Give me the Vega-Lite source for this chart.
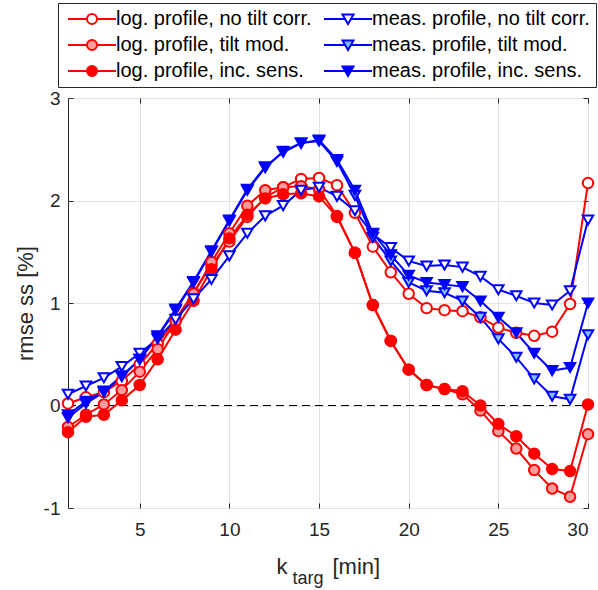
{
  "$schema": "https://vega.github.io/schema/vega-lite/v6.json",
  "width": 520,
  "height": 410,
  "autosize": {"type": "none"},
  "padding": {"left": 68, "top": 98, "right": 10, "bottom": 82},
  "background": "white",
  "config": {
    "font": "Liberation Sans",
    "view": {"stroke": "#262626", "strokeWidth": 1},
    "axis": {
      "labelFont": "Liberation Sans", "labelFontSize": 19, "labelColor": "#262626",
      "titleFont": "Liberation Sans", "titleFontSize": 22, "titleFontWeight": "normal", "titleColor": "#262626",
      "domainColor": "#262626", "tickColor": "#262626", "gridColor": "#e3e3e3", "tickSize": -5
    },
    "legend": {
      "orient": "none", "legendX": -10, "legendY": -95, "columns": 2,
      "labelFont": "Liberation Sans", "labelFontSize": 20, "labelColor": "black", "labelLimit": 400,
      "strokeColor": "#262626", "fillColor": "white", "padding": 6,
      "symbolSize": 100, "symbolStrokeWidth": 2, "symbolOffset": 18, "labelOffset": 14,
      "rowPadding": 6, "columnPadding": 8
    }
  },
  "data": {"values": [
    {"s": "log. profile, no tilt corr.", "k": 1, "v": 0.02},
    {"s": "log. profile, no tilt corr.", "k": 2, "v": 0.08},
    {"s": "log. profile, no tilt corr.", "k": 3, "v": 0.13},
    {"s": "log. profile, no tilt corr.", "k": 4, "v": 0.24},
    {"s": "log. profile, no tilt corr.", "k": 5, "v": 0.40},
    {"s": "log. profile, no tilt corr.", "k": 6, "v": 0.60},
    {"s": "log. profile, no tilt corr.", "k": 7, "v": 0.84},
    {"s": "log. profile, no tilt corr.", "k": 8, "v": 1.10},
    {"s": "log. profile, no tilt corr.", "k": 9, "v": 1.37},
    {"s": "log. profile, no tilt corr.", "k": 10, "v": 1.60},
    {"s": "log. profile, no tilt corr.", "k": 11, "v": 1.84},
    {"s": "log. profile, no tilt corr.", "k": 12, "v": 2.03},
    {"s": "log. profile, no tilt corr.", "k": 13, "v": 2.13},
    {"s": "log. profile, no tilt corr.", "k": 14, "v": 2.21},
    {"s": "log. profile, no tilt corr.", "k": 15, "v": 2.22},
    {"s": "log. profile, no tilt corr.", "k": 16, "v": 2.15},
    {"s": "log. profile, no tilt corr.", "k": 17, "v": 1.88},
    {"s": "log. profile, no tilt corr.", "k": 18, "v": 1.55},
    {"s": "log. profile, no tilt corr.", "k": 19, "v": 1.30},
    {"s": "log. profile, no tilt corr.", "k": 20, "v": 1.09},
    {"s": "log. profile, no tilt corr.", "k": 21, "v": 0.95},
    {"s": "log. profile, no tilt corr.", "k": 22, "v": 0.93},
    {"s": "log. profile, no tilt corr.", "k": 23, "v": 0.92},
    {"s": "log. profile, no tilt corr.", "k": 24, "v": 0.86},
    {"s": "log. profile, no tilt corr.", "k": 25, "v": 0.76},
    {"s": "log. profile, no tilt corr.", "k": 26, "v": 0.71},
    {"s": "log. profile, no tilt corr.", "k": 27, "v": 0.68},
    {"s": "log. profile, no tilt corr.", "k": 28, "v": 0.72},
    {"s": "log. profile, no tilt corr.", "k": 29, "v": 0.99},
    {"s": "log. profile, no tilt corr.", "k": 30, "v": 2.17},
    {"s": "log. profile, tilt mod.", "k": 1, "v": -0.21},
    {"s": "log. profile, tilt mod.", "k": 2, "v": -0.09},
    {"s": "log. profile, tilt mod.", "k": 3, "v": 0.01},
    {"s": "log. profile, tilt mod.", "k": 4, "v": 0.15},
    {"s": "log. profile, tilt mod.", "k": 5, "v": 0.33},
    {"s": "log. profile, tilt mod.", "k": 6, "v": 0.55},
    {"s": "log. profile, tilt mod.", "k": 7, "v": 0.82},
    {"s": "log. profile, tilt mod.", "k": 8, "v": 1.09},
    {"s": "log. profile, tilt mod.", "k": 9, "v": 1.40},
    {"s": "log. profile, tilt mod.", "k": 10, "v": 1.68},
    {"s": "log. profile, tilt mod.", "k": 11, "v": 1.95},
    {"s": "log. profile, tilt mod.", "k": 12, "v": 2.10},
    {"s": "log. profile, tilt mod.", "k": 13, "v": 2.13},
    {"s": "log. profile, tilt mod.", "k": 14, "v": 2.14},
    {"s": "log. profile, tilt mod.", "k": 15, "v": 2.11},
    {"s": "log. profile, tilt mod.", "k": 16, "v": 1.85},
    {"s": "log. profile, tilt mod.", "k": 17, "v": 1.49},
    {"s": "log. profile, tilt mod.", "k": 18, "v": 0.98},
    {"s": "log. profile, tilt mod.", "k": 19, "v": 0.63},
    {"s": "log. profile, tilt mod.", "k": 20, "v": 0.35},
    {"s": "log. profile, tilt mod.", "k": 21, "v": 0.20},
    {"s": "log. profile, tilt mod.", "k": 22, "v": 0.16},
    {"s": "log. profile, tilt mod.", "k": 23, "v": 0.11},
    {"s": "log. profile, tilt mod.", "k": 24, "v": -0.05},
    {"s": "log. profile, tilt mod.", "k": 25, "v": -0.25},
    {"s": "log. profile, tilt mod.", "k": 26, "v": -0.42},
    {"s": "log. profile, tilt mod.", "k": 27, "v": -0.63},
    {"s": "log. profile, tilt mod.", "k": 28, "v": -0.81},
    {"s": "log. profile, tilt mod.", "k": 29, "v": -0.89},
    {"s": "log. profile, tilt mod.", "k": 30, "v": -0.28},
    {"s": "log. profile, inc. sens.", "k": 1, "v": -0.26},
    {"s": "log. profile, inc. sens.", "k": 2, "v": -0.11},
    {"s": "log. profile, inc. sens.", "k": 3, "v": -0.09},
    {"s": "log. profile, inc. sens.", "k": 4, "v": 0.05},
    {"s": "log. profile, inc. sens.", "k": 5, "v": 0.20},
    {"s": "log. profile, inc. sens.", "k": 6, "v": 0.45},
    {"s": "log. profile, inc. sens.", "k": 7, "v": 0.74},
    {"s": "log. profile, inc. sens.", "k": 8, "v": 1.02},
    {"s": "log. profile, inc. sens.", "k": 9, "v": 1.33},
    {"s": "log. profile, inc. sens.", "k": 10, "v": 1.63},
    {"s": "log. profile, inc. sens.", "k": 11, "v": 1.86},
    {"s": "log. profile, inc. sens.", "k": 12, "v": 2.02},
    {"s": "log. profile, inc. sens.", "k": 13, "v": 2.06},
    {"s": "log. profile, inc. sens.", "k": 14, "v": 2.07},
    {"s": "log. profile, inc. sens.", "k": 15, "v": 2.04},
    {"s": "log. profile, inc. sens.", "k": 16, "v": 1.84},
    {"s": "log. profile, inc. sens.", "k": 17, "v": 1.49},
    {"s": "log. profile, inc. sens.", "k": 18, "v": 0.98},
    {"s": "log. profile, inc. sens.", "k": 19, "v": 0.63},
    {"s": "log. profile, inc. sens.", "k": 20, "v": 0.35},
    {"s": "log. profile, inc. sens.", "k": 21, "v": 0.20},
    {"s": "log. profile, inc. sens.", "k": 22, "v": 0.16},
    {"s": "log. profile, inc. sens.", "k": 23, "v": 0.14},
    {"s": "log. profile, inc. sens.", "k": 24, "v": 0.00},
    {"s": "log. profile, inc. sens.", "k": 25, "v": -0.18},
    {"s": "log. profile, inc. sens.", "k": 26, "v": -0.30},
    {"s": "log. profile, inc. sens.", "k": 27, "v": -0.47},
    {"s": "log. profile, inc. sens.", "k": 28, "v": -0.62},
    {"s": "log. profile, inc. sens.", "k": 29, "v": -0.64},
    {"s": "log. profile, inc. sens.", "k": 30, "v": 0.01},
    {"s": "meas. profile, no tilt corr.", "k": 1, "v": 0.11},
    {"s": "meas. profile, no tilt corr.", "k": 2, "v": 0.19},
    {"s": "meas. profile, no tilt corr.", "k": 3, "v": 0.27},
    {"s": "meas. profile, no tilt corr.", "k": 4, "v": 0.38},
    {"s": "meas. profile, no tilt corr.", "k": 5, "v": 0.51},
    {"s": "meas. profile, no tilt corr.", "k": 6, "v": 0.65},
    {"s": "meas. profile, no tilt corr.", "k": 7, "v": 0.84},
    {"s": "meas. profile, no tilt corr.", "k": 8, "v": 1.04},
    {"s": "meas. profile, no tilt corr.", "k": 9, "v": 1.23},
    {"s": "meas. profile, no tilt corr.", "k": 10, "v": 1.46},
    {"s": "meas. profile, no tilt corr.", "k": 11, "v": 1.68},
    {"s": "meas. profile, no tilt corr.", "k": 12, "v": 1.85},
    {"s": "meas. profile, no tilt corr.", "k": 13, "v": 1.95},
    {"s": "meas. profile, no tilt corr.", "k": 14, "v": 2.10},
    {"s": "meas. profile, no tilt corr.", "k": 15, "v": 2.13},
    {"s": "meas. profile, no tilt corr.", "k": 16, "v": 2.04},
    {"s": "meas. profile, no tilt corr.", "k": 17, "v": 1.90},
    {"s": "meas. profile, no tilt corr.", "k": 18, "v": 1.67},
    {"s": "meas. profile, no tilt corr.", "k": 19, "v": 1.54},
    {"s": "meas. profile, no tilt corr.", "k": 20, "v": 1.41},
    {"s": "meas. profile, no tilt corr.", "k": 21, "v": 1.36},
    {"s": "meas. profile, no tilt corr.", "k": 22, "v": 1.37},
    {"s": "meas. profile, no tilt corr.", "k": 23, "v": 1.35},
    {"s": "meas. profile, no tilt corr.", "k": 24, "v": 1.26},
    {"s": "meas. profile, no tilt corr.", "k": 25, "v": 1.13},
    {"s": "meas. profile, no tilt corr.", "k": 26, "v": 1.07},
    {"s": "meas. profile, no tilt corr.", "k": 27, "v": 1.00},
    {"s": "meas. profile, no tilt corr.", "k": 28, "v": 0.98},
    {"s": "meas. profile, no tilt corr.", "k": 29, "v": 1.12},
    {"s": "meas. profile, no tilt corr.", "k": 30, "v": 1.81},
    {"s": "meas. profile, tilt mod.", "k": 1, "v": -0.12},
    {"s": "meas. profile, tilt mod.", "k": 2, "v": 0.02},
    {"s": "meas. profile, tilt mod.", "k": 3, "v": 0.13},
    {"s": "meas. profile, tilt mod.", "k": 4, "v": 0.28},
    {"s": "meas. profile, tilt mod.", "k": 5, "v": 0.45},
    {"s": "meas. profile, tilt mod.", "k": 6, "v": 0.67},
    {"s": "meas. profile, tilt mod.", "k": 7, "v": 0.93},
    {"s": "meas. profile, tilt mod.", "k": 8, "v": 1.20},
    {"s": "meas. profile, tilt mod.", "k": 9, "v": 1.50},
    {"s": "meas. profile, tilt mod.", "k": 10, "v": 1.80},
    {"s": "meas. profile, tilt mod.", "k": 11, "v": 2.10},
    {"s": "meas. profile, tilt mod.", "k": 12, "v": 2.32},
    {"s": "meas. profile, tilt mod.", "k": 13, "v": 2.48},
    {"s": "meas. profile, tilt mod.", "k": 14, "v": 2.56},
    {"s": "meas. profile, tilt mod.", "k": 15, "v": 2.58},
    {"s": "meas. profile, tilt mod.", "k": 16, "v": 2.38},
    {"s": "meas. profile, tilt mod.", "k": 17, "v": 2.05},
    {"s": "meas. profile, tilt mod.", "k": 18, "v": 1.64},
    {"s": "meas. profile, tilt mod.", "k": 19, "v": 1.41},
    {"s": "meas. profile, tilt mod.", "k": 20, "v": 1.20},
    {"s": "meas. profile, tilt mod.", "k": 21, "v": 1.12},
    {"s": "meas. profile, tilt mod.", "k": 22, "v": 1.10},
    {"s": "meas. profile, tilt mod.", "k": 23, "v": 1.02},
    {"s": "meas. profile, tilt mod.", "k": 24, "v": 0.86},
    {"s": "meas. profile, tilt mod.", "k": 25, "v": 0.65},
    {"s": "meas. profile, tilt mod.", "k": 26, "v": 0.47},
    {"s": "meas. profile, tilt mod.", "k": 27, "v": 0.26},
    {"s": "meas. profile, tilt mod.", "k": 28, "v": 0.09},
    {"s": "meas. profile, tilt mod.", "k": 29, "v": 0.06},
    {"s": "meas. profile, tilt mod.", "k": 30, "v": 0.69},
    {"s": "meas. profile, inc. sens.", "k": 1, "v": -0.09},
    {"s": "meas. profile, inc. sens.", "k": 2, "v": 0.04},
    {"s": "meas. profile, inc. sens.", "k": 3, "v": 0.14},
    {"s": "meas. profile, inc. sens.", "k": 4, "v": 0.29},
    {"s": "meas. profile, inc. sens.", "k": 5, "v": 0.45},
    {"s": "meas. profile, inc. sens.", "k": 6, "v": 0.68},
    {"s": "meas. profile, inc. sens.", "k": 7, "v": 0.94},
    {"s": "meas. profile, inc. sens.", "k": 8, "v": 1.21},
    {"s": "meas. profile, inc. sens.", "k": 9, "v": 1.51},
    {"s": "meas. profile, inc. sens.", "k": 10, "v": 1.81},
    {"s": "meas. profile, inc. sens.", "k": 11, "v": 2.11},
    {"s": "meas. profile, inc. sens.", "k": 12, "v": 2.33},
    {"s": "meas. profile, inc. sens.", "k": 13, "v": 2.47},
    {"s": "meas. profile, inc. sens.", "k": 14, "v": 2.56},
    {"s": "meas. profile, inc. sens.", "k": 15, "v": 2.59},
    {"s": "meas. profile, inc. sens.", "k": 16, "v": 2.40},
    {"s": "meas. profile, inc. sens.", "k": 17, "v": 2.10},
    {"s": "meas. profile, inc. sens.", "k": 18, "v": 1.68},
    {"s": "meas. profile, inc. sens.", "k": 19, "v": 1.47},
    {"s": "meas. profile, inc. sens.", "k": 20, "v": 1.27},
    {"s": "meas. profile, inc. sens.", "k": 21, "v": 1.20},
    {"s": "meas. profile, inc. sens.", "k": 22, "v": 1.18},
    {"s": "meas. profile, inc. sens.", "k": 23, "v": 1.16},
    {"s": "meas. profile, inc. sens.", "k": 24, "v": 1.02},
    {"s": "meas. profile, inc. sens.", "k": 25, "v": 0.86},
    {"s": "meas. profile, inc. sens.", "k": 26, "v": 0.71},
    {"s": "meas. profile, inc. sens.", "k": 27, "v": 0.51},
    {"s": "meas. profile, inc. sens.", "k": 28, "v": 0.34},
    {"s": "meas. profile, inc. sens.", "k": 29, "v": 0.37},
    {"s": "meas. profile, inc. sens.", "k": 30, "v": 1.00}
  ]},
  "layer": [
    {
      "mark": {"type": "rule", "color": "black", "strokeWidth": 1.2, "strokeDash": [8, 5]},
      "encoding": {
        "x": {"datum": 1, "type": "quantitative", "scale": {"domain": [1, 30], "nice": false, "zero": false},
              "axis": {"orient": "top", "values": [5, 10, 15, 20, 25, 30], "labels": false, "grid": false, "domain": false, "title": null}},
        "x2": {"datum": 30},
        "y": {"datum": 0, "type": "quantitative", "scale": {"domain": [-1, 3], "nice": false, "zero": false},
              "axis": {"orient": "right", "values": [-1, 0, 1, 2, 3], "labels": false, "grid": false, "domain": false, "title": null}}
      }
    },
    {
      "mark": {"type": "line", "strokeWidth": 2},
      "encoding": {
        "x": {"field": "k", "type": "quantitative", "scale": {"domain": [1, 30], "nice": false, "zero": false},
              "axis": {"orient": "bottom", "values": [5, 10, 15, 20, 25, 30], "grid": true, "domain": false, "labelPadding": 17,
                       "title": "k", "titleX": 208, "titleY": 65, "titleAlign": "left", "titleBaseline": "alphabetic"}},
        "y": {"field": "v", "type": "quantitative", "scale": {"domain": [-1, 3], "nice": false, "zero": false},
              "axis": {"orient": "left", "values": [-1, 0, 1, 2, 3], "grid": true, "domain": false, "labelPadding": 13,
                       "labelExpr": "replace(datum.label, '\u2212', '-')",
                       "title": "rmse ss [%]", "titlePadding": 6}},
        "stroke": {"field": "s", "type": "nominal", "legend": null,
                   "scale": {"domain": ["log. profile, no tilt corr.", "log. profile, tilt mod.", "log. profile, inc. sens.", "meas. profile, no tilt corr.", "meas. profile, tilt mod.", "meas. profile, inc. sens."],
                             "range": ["#ff0000", "#ff0000", "#ff0000", "#0000ff", "#0000ff", "#0000ff"]}},
        "detail": {"field": "s", "type": "nominal"}
      }
    },
    {
      "mark": {"type": "point", "strokeWidth": 2, "opacity": 1, "size": 110},
      "encoding": {
        "x": {"field": "k", "type": "quantitative", "scale": {"domain": [1, 30], "nice": false, "zero": false},
              "axis": {"orient": "bottom", "labels": false, "ticks": false, "grid": false, "domain": false,
                       "title": "targ", "titleFontSize": 18, "titleX": 224, "titleY": 75, "titleAlign": "left", "titleBaseline": "alphabetic"}},
        "y": {"field": "v", "type": "quantitative", "scale": {"domain": [-1, 3], "nice": false, "zero": false}, "axis": null},
        "stroke": {"field": "s", "type": "nominal", "legend": null,
                   "scale": {"domain": ["log. profile, no tilt corr.", "log. profile, tilt mod.", "log. profile, inc. sens.", "meas. profile, no tilt corr.", "meas. profile, tilt mod.", "meas. profile, inc. sens."],
                             "range": ["#ff0000", "#ff0000", "#ff0000", "#0000ff", "#0000ff", "#0000ff"]}},
        "fill": {"field": "s", "type": "nominal", "legend": null,
                 "scale": {"domain": ["log. profile, no tilt corr.", "log. profile, tilt mod.", "log. profile, inc. sens.", "meas. profile, no tilt corr.", "meas. profile, tilt mod.", "meas. profile, inc. sens."],
                           "range": ["#ffffff", "#ff9c9c", "#ff0000", "#ffffff", "#80bfff", "#0000ff"]}},
        "shape": {"field": "s", "type": "nominal", "legend": null,
                  "scale": {"domain": ["log. profile, no tilt corr.", "log. profile, tilt mod.", "log. profile, inc. sens.", "meas. profile, no tilt corr.", "meas. profile, tilt mod.", "meas. profile, inc. sens."],
                            "range": ["circle", "circle", "circle", "triangle-down", "triangle-down", "triangle-down"]}}
      }
    },
    {
      "transform": [{"filter": "false"}],
      "mark": {"type": "point", "strokeWidth": 2, "opacity": 1},
      "encoding": {
        "x": {"field": "k", "type": "quantitative", "scale": {"domain": [1, 30], "nice": false, "zero": false},
              "axis": {"orient": "bottom", "labels": false, "ticks": false, "grid": false, "domain": false,
                       "title": "[min]", "titleX": 264, "titleY": 65, "titleAlign": "left", "titleBaseline": "alphabetic"}},
        "y": {"field": "v", "type": "quantitative", "scale": {"domain": [-1, 3], "nice": false, "zero": false}, "axis": null},
        "stroke": {"field": "s", "type": "nominal", "legend": {"title": null},
                   "scale": {"domain": ["log. profile, no tilt corr.", "log. profile, tilt mod.", "log. profile, inc. sens.", "meas. profile, no tilt corr.", "meas. profile, tilt mod.", "meas. profile, inc. sens."],
                             "range": ["#ff0000", "#ff0000", "#ff0000", "#0000ff", "#0000ff", "#0000ff"]}},
        "fill": {"field": "s", "type": "nominal", "legend": {"title": null},
                 "scale": {"domain": ["log. profile, no tilt corr.", "log. profile, tilt mod.", "log. profile, inc. sens.", "meas. profile, no tilt corr.", "meas. profile, tilt mod.", "meas. profile, inc. sens."],
                           "range": ["#ffffff", "#ff9c9c", "#ff0000", "#ffffff", "#80bfff", "#0000ff"]}},
        "shape": {"field": "s", "type": "nominal", "legend": {"title": null},
                  "scale": {"domain": ["log. profile, no tilt corr.", "log. profile, tilt mod.", "log. profile, inc. sens.", "meas. profile, no tilt corr.", "meas. profile, tilt mod.", "meas. profile, inc. sens."],
                            "range": [
                              "M-4.8,0H-1M1,0H4.8M1,0C1,0.5523,0.5523,1,0,1C-0.5523,1,-1,0.5523,-1,0C-1,-0.5523,-0.5523,-1,0,-1C0.5523,-1,1,-0.5523,1,0Z",
                              "M-4.8,0H-1M1,0H4.8M1,0C1,0.5523,0.5523,1,0,1C-0.5523,1,-1,0.5523,-1,0C-1,-0.5523,-0.5523,-1,0,-1C0.5523,-1,1,-0.5523,1,0Z",
                              "M-4.8,0H-1M1,0H4.8M1,0C1,0.5523,0.5523,1,0,1C-0.5523,1,-1,0.5523,-1,0C-1,-0.5523,-0.5523,-1,0,-1C0.5523,-1,1,-0.5523,1,0Z",
                              "M-4.8,0H-0.5M0.5,0H4.8M-1.1,-0.9L1.1,-0.9L0,1Z",
                              "M-4.8,0H-0.5M0.5,0H4.8M-1.1,-0.9L1.1,-0.9L0,1Z",
                              "M-4.8,0H-0.5M0.5,0H4.8M-1.1,-0.9L1.1,-0.9L0,1Z"
                            ]}}
      }
    }
  ],
  "resolve": {
    "scale": {"shape": "independent", "stroke": "independent", "fill": "independent"},
    "axis": {"x": "independent", "y": "independent"}
  }
}
